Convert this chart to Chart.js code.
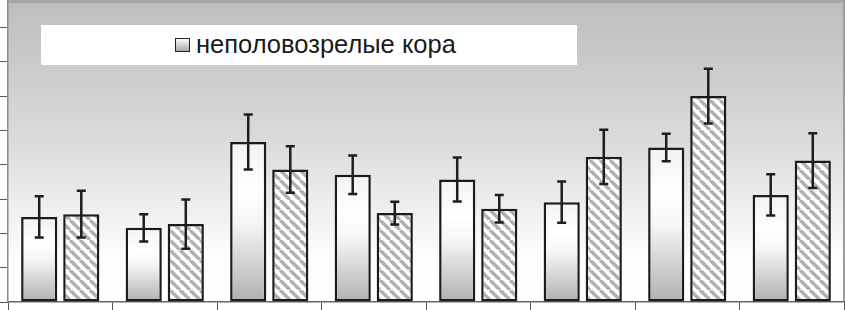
<!DOCTYPE html>
<html>
<head>
<meta charset="utf-8">
<script src="https://cdn.jsdelivr.net/npm/chart.js@4.4.1/dist/chart.umd.min.js"></script>
<style>
  html, body { margin: 0; padding: 0; background: #fff; }
  #wrap { position: relative; width: 845px; height: 310px; }
  #legend {
    position: absolute; left: 41px; top: 25px; width: 536px; height: 40px;
    background: #fff; box-sizing: border-box;
    font-family: "Liberation Sans", Arial, sans-serif; font-size: 25.5px; color: #1a1a1a;
  }
  #legend .sw {
    position: absolute; left: 134px; top: 13px; width: 15px; height: 14px; box-sizing: border-box;
    border: 1.5px solid #222; background: linear-gradient(#fafafa, #a8a8a8);
  }
  #legend .txt { position: absolute; left: 155px; top: 4px; line-height: 30px; white-space: nowrap; }
</style>
</head>
<body>
<div id="wrap">
  <canvas id="chart" width="845" height="310"></canvas>
  <div id="legend"><span class="sw"></span><span class="txt">неполовозрелые кора</span></div>
</div>
<script>
// --- data (values in y-axis tick units) ---
const categories = ['1', '2', '3', '4', '5', '6', '7', '8'];
const immature    = [2.48, 2.16, 4.66, 3.71, 3.57, 2.91, 4.50, 3.12];
const immatureErr = [0.60, 0.40, 0.80, 0.56, 0.64, 0.60, 0.40, 0.60];
const mature      = [2.56, 2.27, 3.86, 2.59, 2.72, 4.23, 6.00, 4.12];
const matureErr   = [0.68, 0.72, 0.68, 0.33, 0.40, 0.79, 0.80, 0.80];
const yMax = 8.8;

// hatch pattern for the second series
function makeHatch() {
    const s = 10;
    const c = document.createElement('canvas');
    c.width = s; c.height = s;
    const g = c.getContext('2d');
    g.fillStyle = '#ffffff';
    g.fillRect(0, 0, s, s);
    g.strokeStyle = '#b0b0b0';
    g.lineWidth = 3.4;
    for (const k of [-s, 0, s]) {
        g.beginPath();
        g.moveTo(k, 0);
        g.lineTo(k + s, s);
        g.stroke();
    }
    return g.createPattern(c, 'repeat');
}
const hatch = makeHatch();

// per-bar vertical gradient for the first series
function barGradient(ctx) {
    const chart = ctx.chart;
    if (!chart.chartArea || ctx.type !== 'data') return '#e8e8e8';
    const ys = chart.scales.y;
    const top = ys.getPixelForValue(ctx.dataset.data[ctx.dataIndex]);
    const bot = ys.getPixelForValue(0);
    const g = chart.ctx.createLinearGradient(0, top, 0, bot);
    g.addColorStop(0, '#f2f2f2');
    g.addColorStop(0.3, '#ffffff');
    g.addColorStop(0.5, '#f6f6f6');
    g.addColorStop(1, '#b0b0b0');
    return g;
}

const errors = [immatureErr, matureErr];

// plot area background (grey gradient)
const plotBg = {
    id: 'plotBg',
    beforeDraw(chart) {
        const { ctx, chartArea: a } = chart;
        ctx.save();
        const g = ctx.createLinearGradient(0, a.top, 0, a.bottom);
        g.addColorStop(0, '#bdbdbd');
        g.addColorStop(0.45, '#dadada');
        g.addColorStop(0.85, '#fdfdfd');
        g.addColorStop(1, '#ffffff');
        ctx.fillStyle = g;
        ctx.fillRect(a.left, a.top, a.right - a.left, a.bottom - a.top);
        ctx.fillStyle = '#a6a6a6';
        ctx.fillRect(a.left, a.top, a.right - a.left, 3);
        ctx.fillStyle = '#9c9c9c';
        ctx.fillRect(a.right - 1, a.top, 2, a.bottom - a.top);
        ctx.restore();
    }
};

// error bars (mean ± error) drawn through the y scale
const errorBars = {
    id: 'errorBars',
    afterDatasetsDraw(chart) {
        const { ctx } = chart;
        const ys = chart.scales.y;
        ctx.save();
        ctx.strokeStyle = '#1e1e1e';
        ctx.lineWidth = 2.5;
        chart.data.datasets.forEach((ds, di) => {
            const meta = chart.getDatasetMeta(di);
            meta.data.forEach((bar, i) => {
                const v = ds.data[i], e = errors[di][i];
                const y1 = ys.getPixelForValue(v + e);
                const y2 = ys.getPixelForValue(v - e);
                const x = bar.x;
                ctx.beginPath();
                ctx.moveTo(x, y1); ctx.lineTo(x, y2);
                ctx.moveTo(x - 4.5, y1); ctx.lineTo(x + 4.5, y1);
                ctx.moveTo(x - 4.5, y2); ctx.lineTo(x + 4.5, y2);
                ctx.stroke();
            });
        });
        ctx.restore();
    }
};

const chart = new Chart(document.getElementById('chart'), {
    type: 'bar',
    data: {
        labels: categories,
        datasets: [
            { label: 'неполовозрелые кора', data: immature, backgroundColor: barGradient,
              borderColor: '#1c1c1c', borderWidth: 2.5, borderSkipped: false },
            { label: 'половозрелые', data: mature, backgroundColor: hatch,
              borderColor: '#1c1c1c', borderWidth: 2.5, borderSkipped: false }
        ]
    },
    options: {
        responsive: false,
        animation: false,
        devicePixelRatio: 1,
        barPercentage: 0.86,
        categoryPercentage: 0.805,
        layout: { padding: { left: 0, right: 1, top: 0, bottom: 0 } },
        plugins: { legend: { display: false }, tooltip: { enabled: false } },
        scales: {
            x: {
                afterFit: s => { s.height = 8; },
                grid: { drawOnChartArea: false, tickLength: 8, color: '#555', offset: true },
                border: { color: '#666', width: 1.5 },
                ticks: { display: false }
            },
            y: {
                min: 0, max: yMax,
                afterFit: s => { s.width = 8; },
                grid: { drawOnChartArea: false, tickLength: 8, color: '#555' },
                border: { color: '#8a8a8a', width: 1.5 },
                ticks: { display: false, stepSize: 1, includeBounds: false }
            }
        }
    },
    plugins: [plotBg, errorBars]
});
</script>
</body>
</html>
